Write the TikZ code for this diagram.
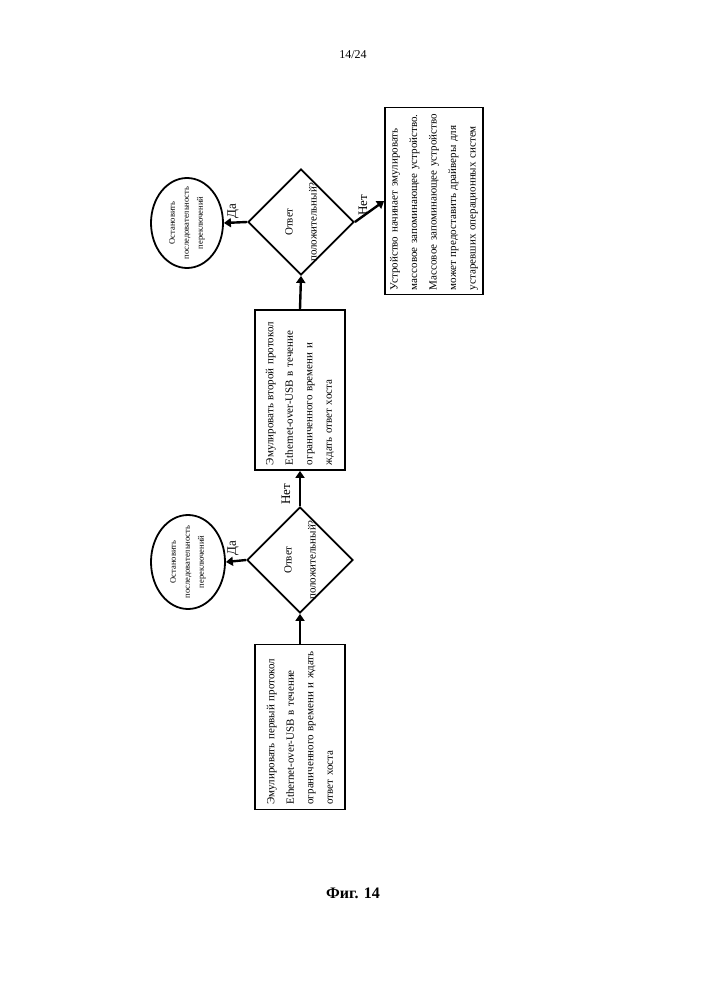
\documentclass[tikz,border=0pt]{standalone}
\usepackage{fontspec}
\setmainfont{Liberation Serif}
\usetikzlibrary{shapes.geometric,arrows.meta}
\begin{document}
\begin{tikzpicture}[x=1pt,y=-1pt,
  boxs/.style={draw,line width=1.8pt,inner sep=0,minimum width=#1},
  dia/.style={draw,diamond,line width=1.8pt,inner sep=0,minimum width=106,minimum height=106},
  ell/.style={draw,ellipse,line width=1.8pt,inner sep=0,minimum width=74,minimum height=94},
  txt/.style={rotate=90,align=left,font=\fontsize{11}{19.5}\selectfont,text width=#1},
  dtxt/.style={rotate=90,align=center,font=\fontsize{11}{24}\selectfont},
  etxt/.style={rotate=90,align=center,font=\fontsize{8.5}{14}\selectfont},
  arr/.style={line width=2.4pt,-{Triangle[length=7pt,width=9pt]}},
  lab/.style={rotate=90,font=\fontsize{13}{15}\selectfont}]
\useasboundingbox (0,0) rectangle (707,1000);
\node (pg) at (353,55) {\fontsize{12}{14}\selectfont 14/24};
% box 1
\node[boxs=90,minimum height=165] (b1) at (300,727) {};
\node[txt=155] (t1) at (300,727) {Эмулировать первый протокол Ethernet-over-USB в течение ограниченного времени и ждать ответ хоста};
\node[dia] (d1) at (300,560) {};
\node[dtxt] (td1) at (300,560) {Ответ\\положительный?};
\node[ell] (e1) at (188,562) {};
\node[etxt] (te1) at (188,562) {Остановить\\последовательность\\переключений};
% box 2
\node[boxs=90,minimum height=160] (b2) at (300,390) {};
\node[txt=150] (t2) at (300,390) {Эмулировать второй протокол Ethernet-over-USB в течение ограниченного времени и ждать ответ хоста};
\node[dia] (d2) at (301,222) {};
\node[dtxt] (td2) at (301,222) {Ответ\\положительный?};
\node[ell,minimum width=72,minimum height=90] (e2) at (187,223) {};
\node[etxt] (te2) at (187,223) {Остановить\\последовательность\\переключений};
% box 3
\node[boxs=98,minimum height=187] (b3) at (434,201) {};
\node[txt=178] (t3) at (434,201) {Устройство начинает эмулировать массовое запоминающее устройство. Массовое запоминающее устройство может предоставить драйверы для устаревших операционных систем};
% arrows
\draw[arr] (b1.north) -- (d1.south);
\draw[arr] (d1.west) -- (e1.east);
\draw[arr] (d1.north) -- (b2.south);
\draw[arr] (b2.north) -- (d2.south);
\draw[arr] (d2.west) -- (e2.east);
\draw[arr] (d2.east) -- (b3.west);
\node[lab] (l1) at (233,548) {Да};
\node[lab] (l2) at (286,494) {Нет};
\node[lab] (l3) at (233,211) {Да};
\node[lab] (l4) at (363,205) {Нет};
\node (fig) at (353,893) {\fontsize{16}{18}\selectfont\bfseries Фиг. 14};
\end{tikzpicture}
\end{document}
